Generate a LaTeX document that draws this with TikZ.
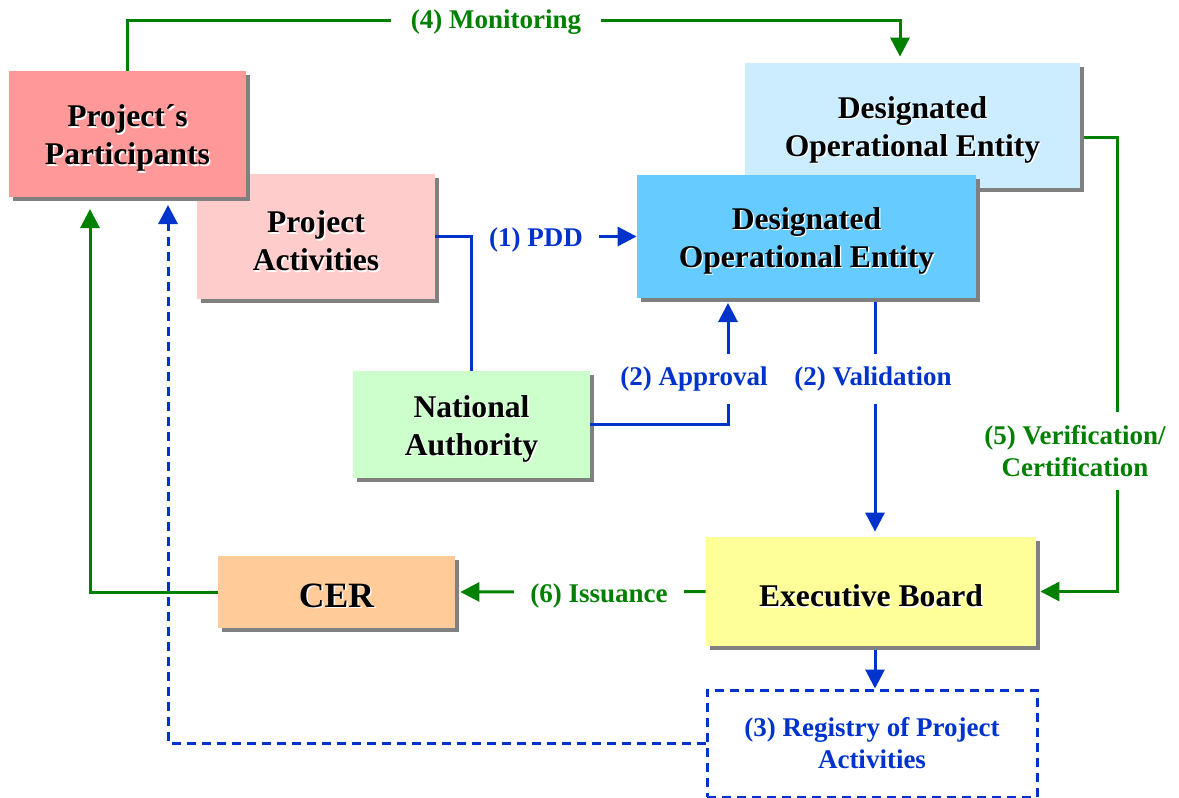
\documentclass[tikz,border=0pt]{standalone}
\usepackage{fontspec}
\setmainfont{Liberation Serif}
\usetikzlibrary{arrows.meta,shadows}

\definecolor{partred}{HTML}{FF9999}
\definecolor{actpink}{HTML}{FFCCCC}
\definecolor{doelight}{HTML}{CCECFF}
\definecolor{doeblue}{HTML}{66CCFF}
\definecolor{natgreen}{HTML}{CCFFCC}
\definecolor{cerorange}{HTML}{FFCC99}
\definecolor{ebyellow}{HTML}{FFFF99}
\definecolor{shadowgray}{HTML}{808080}
\definecolor{flowgreen}{HTML}{008000}
\definecolor{flowblue}{HTML}{0033CC}

% black box text with a thin white offset copy underneath
\newcommand{\sh}[1]{\leavevmode\rlap{\kern0.7pt\raisebox{-0.7pt}{\color{white}#1}}#1}
% tall first line, pushes box text a little down
\newcommand{\boxstrut}{\rule{0pt}{16pt}}

\tikzset{
  box/.style={fill=#1, align=center, inner sep=0pt,
    font=\bfseries\fontsize{15.8}{19}\selectfont,
    drop shadow={shadow xshift=2pt, shadow yshift=-2pt, fill=shadowgray, opacity=1}},
  lbl/.style={fill=white, align=center, inner xsep=8pt, inner ysep=6.5pt,
    font=\bfseries\fontsize{13.5}{16}\selectfont},
  flowg/.style={draw=flowgreen, line width=1.5pt, -{Triangle[length=9.5pt,width=9.5pt]}},
  flowb/.style={draw=flowblue, line width=1.5pt, -{Triangle[length=9.5pt,width=9.5pt]}},
  lineb/.style={draw=flowblue, line width=1.5pt},
}

\begin{document}
\begin{tikzpicture}[x=0.5pt,y=-0.5pt]
\useasboundingbox (0,0) rectangle (1179,798);

% boxes
\node[box=actpink, minimum width=119pt, minimum height=62.5pt] (pa) at (316,236.5)
  {\boxstrut\sh{Project}\\\sh{Activities}};
\node[box=partred, minimum width=118.5pt, minimum height=63pt] (pp) at (127.5,134)
  {\boxstrut\sh{Project´s}\\\sh{Participants}};
\node[box=doelight, minimum width=167.5pt, minimum height=62.5pt] (doeb) at (912.5,125.5)
  {\boxstrut\sh{Designated}\\\sh{Operational Entity}};
\node[box=doeblue, minimum width=169.5pt, minimum height=61.5pt] (doe) at (806.5,236.5)
  {\boxstrut\sh{Designated}\\\sh{Operational Entity}};
\node[box=natgreen, minimum width=118.5pt, minimum height=53.5pt] (na) at (471.5,424.5)
  {\boxstrut\sh{National}\\\sh{Authority}};
\node[box=cerorange, minimum width=118.5pt, minimum height=36pt,
  font=\bfseries\fontsize{17.8}{21}\selectfont] (cer) at (336.5,592) {\boxstrut\sh{CER}};
\node[box=ebyellow, minimum width=165pt, minimum height=54.5pt] (eb) at (871,591.5)
  {\boxstrut\sh{Executive Board}};
\node[draw=flowblue, line width=1.5pt, dash pattern=on 4.5pt off 3pt,
  minimum width=165pt, minimum height=53.5pt, align=center, text=flowblue,
  font=\bfseries\fontsize{13.5}{16}\selectfont] (reg) at (872,743.5)
  {(3) Registry of Project\\Activities};

% end points of the connectors
\coordinate (monr) at (900,20);
\coordinate (vert) at (1117,137);
\coordinate (appr) at (728,303);
\coordinate (valx) at (875,0);
\coordinate (ppg) at (90,209);
\coordinate (ppb) at (168,205);

% connectors
\draw[flowg, shorten >=3pt] (pp.north) |- (monr) -- (monr |- doeb.north);
\draw[flowg, shorten <=2pt, shorten >=2pt] (vert -| doeb.east) -- (vert) |- (eb.east);
\draw[flowg, shorten >=2.5pt] (eb.west) -- (cer.east);
\draw[flowg] (cer.west) -| (ppg);
\draw[lineb] (na.north) -- (na.north |- pa.east);
\draw[flowb] (pa.east) -- (doe.west);
\draw[flowb] (na.east) -| (appr);
\draw[flowb, shorten <=2pt, shorten >=2.5pt] (doe.south -| valx) -- (eb.north -| valx);
\draw[flowb, shorten <=2pt] (eb.south -| valx) -- (reg.north -| valx);
\draw[flowb, dash pattern=on 4.5pt off 3pt] (reg.west) -| (ppb);

% labels
\node[lbl, text=flowgreen, inner xsep=10pt] (lmon) at (496,22) {(4) Monitoring};
\node[lbl, text=flowblue, inner xsep=8.25pt, inner ysep=7pt] (lpdd) at (536,240) {(1) PDD};
\node[lbl, text=flowblue] (lapp) at (694,379) {(2) Approval};
\node[lbl, text=flowblue] (lval) at (873,379) {(2) Validation};
\node[lbl, text=flowgreen] (lver) at (1075,451) {(5) Verification/\\Certification};
\node[lbl, text=flowgreen] (liss) at (599,596) {(6) Issuance};
\end{tikzpicture}
\end{document}
